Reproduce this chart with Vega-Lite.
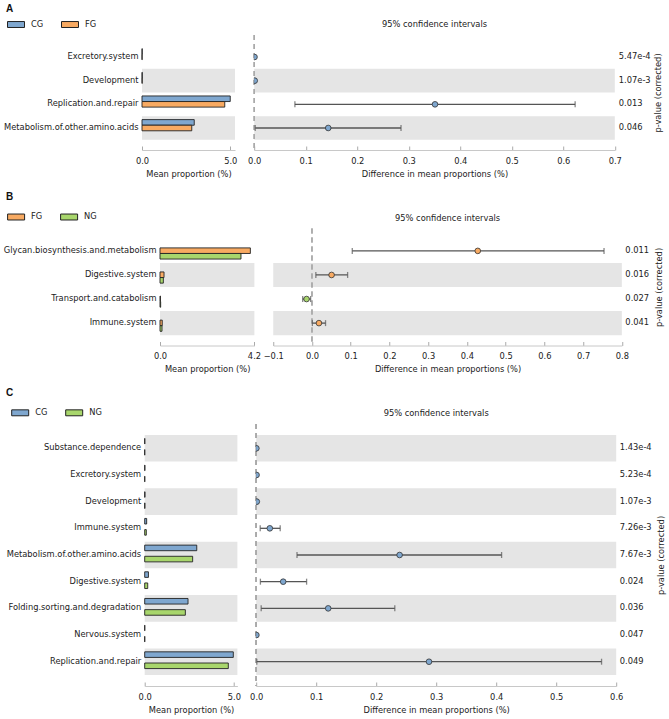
{
  "$schema": "https://vega.github.io/schema/vega-lite/v6.json",
  "background": "white",
  "padding": {"left": 2, "top": 3, "right": 2, "bottom": 2},
  "spacing": 13.5,
  "config": {
    "font": "DejaVu Sans",
    "view": {"stroke": null},
    "axis": {"labelFontSize": 8.3, "titleFontSize": 8.3, "titleFontWeight": "normal", "labelColor": "#222", "titleColor": "#222", "domainColor": "#c8c8c8", "tickColor": "#aaaaaa", "grid": false},
    "legend": {"padding": 0}
  },
  "datasets": {
    "A": [
      {"feature": "Excretory.system", "rank": 1, "CG": 0.012, "FG": 0.006, "diff": 0.0006, "lo": 0.0002, "hi": 0.001, "higher": "CG", "p": "5.47e-4"},
      {"feature": "Development", "rank": 2, "CG": 0.015, "FG": 0.01, "diff": 0.001, "lo": 0.0004, "hi": 0.0016, "higher": "CG", "p": "1.07e-3"},
      {"feature": "Replication.and.repair", "rank": 3, "CG": 5.0, "FG": 4.69, "diff": 0.351, "lo": 0.079, "hi": 0.623, "higher": "CG", "p": "0.013"},
      {"feature": "Metabolism.of.other.amino.acids", "rank": 4, "CG": 2.96, "FG": 2.82, "diff": 0.1437, "lo": 0.002, "hi": 0.285, "higher": "CG", "p": "0.046"}
    ],
    "B": [
      {"feature": "Glycan.biosynthesis.and.metabolism", "rank": 1, "FG": 4.04, "NG": 3.62, "diff": 0.428, "lo": 0.104, "hi": 0.754, "higher": "FG", "p": "0.011"},
      {"feature": "Digestive.system", "rank": 2, "FG": 0.18, "NG": 0.15, "diff": 0.0506, "lo": 0.01, "hi": 0.092, "higher": "FG", "p": "0.016"},
      {"feature": "Transport.and.catabolism", "rank": 3, "FG": 0.02, "NG": 0.03, "diff": -0.014, "lo": -0.024, "hi": -0.0035, "higher": "NG", "p": "0.027"},
      {"feature": "Immune.system", "rank": 4, "FG": 0.1, "NG": 0.09, "diff": 0.018, "lo": 0.001, "hi": 0.035, "higher": "FG", "p": "0.041"}
    ],
    "C": [
      {"feature": "Substance.dependence", "rank": 1, "CG": 0.006, "NG": 0.002, "diff": 0.0003, "lo": 0.0001, "hi": 0.0005, "higher": "CG", "p": "1.43e-4"},
      {"feature": "Excretory.system", "rank": 2, "CG": 0.012, "NG": 0.006, "diff": 0.0006, "lo": 0.0002, "hi": 0.001, "higher": "CG", "p": "5.23e-4"},
      {"feature": "Development", "rank": 3, "CG": 0.015, "NG": 0.01, "diff": 0.001, "lo": 0.0004, "hi": 0.0016, "higher": "CG", "p": "1.07e-3"},
      {"feature": "Immune.system", "rank": 4, "CG": 0.11, "NG": 0.09, "diff": 0.0227, "lo": 0.0067, "hi": 0.04, "higher": "CG", "p": "7.26e-3"},
      {"feature": "Metabolism.of.other.amino.acids", "rank": 5, "CG": 2.92, "NG": 2.69, "diff": 0.239, "lo": 0.068, "hi": 0.409, "higher": "CG", "p": "7.67e-3"},
      {"feature": "Digestive.system", "rank": 6, "CG": 0.21, "NG": 0.17, "diff": 0.045, "lo": 0.007, "hi": 0.084, "higher": "CG", "p": "0.024"},
      {"feature": "Folding.sorting.and.degradation", "rank": 7, "CG": 2.43, "NG": 2.28, "diff": 0.12, "lo": 0.0083, "hi": 0.231, "higher": "CG", "p": "0.036"},
      {"feature": "Nervous.system", "rank": 8, "CG": 0.006, "NG": 0.004, "diff": 0.0003, "lo": 0.0001, "hi": 0.0005, "higher": "CG", "p": "0.047"},
      {"feature": "Replication.and.repair", "rank": 9, "CG": 4.97, "NG": 4.69, "diff": 0.288, "lo": 0.001, "hi": 0.5756, "higher": "CG", "p": "0.049"}
    ]
  },
  "resolve": {"scale": {"color": "independent"}, "legend": {"color": "independent"}},
  "vconcat": [
    {
      "title": {"text": "A", "anchor": "start", "fontSize": 10, "fontWeight": "bold", "font": "Liberation Sans", "offset": 2, "dx": 4, "color": "#111"},
      "spacing": 0,
      "hconcat": [
        {"width": 1, "height": 1, "data": {"values": []}, "mark": {"type": "point", "opacity": 0}},
        {
          "spacing": 10.2,
          "data": {"name": "A"},
          "resolve": {"scale": {"color": "independent"}, "legend": {"color": "independent"}},
          "hconcat": [
            {
              "width": 93, "height": 115,
              "layer": [
                {
                  "transform": [{"filter": "datum.rank % 2 == 0"}],
                  "mark": {"type": "rect", "color": "#e5e5e5"},
                  "encoding": {
                    "y": {"field": "feature", "type": "nominal", "sort": {"field": "rank", "op": "min"}, "scale": {"paddingInner": 0, "paddingOuter": 0.43}, "axis": {"ticks": false, "domain": false, "labelPadding": 4, "title": null}},
                    "x": {"value": 0}, "x2": {"value": "width"}
                  }
                },
                {
                  "transform": [{"fold": ["CG", "FG"], "as": ["group", "mean"]}],
                  "mark": {"type": "bar", "stroke": "#222", "strokeWidth": 0.9},
                  "encoding": {
                    "y": {"field": "feature", "type": "nominal", "sort": {"field": "rank", "op": "min"}, "scale": {"paddingInner": 0, "paddingOuter": 0.43}, "axis": {"ticks": false, "domain": false, "labelPadding": 4, "title": null}},
                    "yOffset": {"field": "group", "type": "nominal", "scale": {"paddingInner": 0, "paddingOuter": 0.62}},
                    "x": {"field": "mean", "type": "quantitative", "scale": {"domain": [0, 5.27], "nice": false}, "axis": {"values": [0, 5], "format": ".1f", "title": "Mean proportion (%)", "labelFlush": false, "tickSize": -4, "labelPadding": 10, "titlePadding": 5}},
                    "color": {"field": "group", "type": "nominal", "scale": {"domain": ["CG", "FG"], "range": ["#7fa7cf", "#f8aa62"]},
                      "legend": {"orient": "none", "legendX": -135, "legendY": -19.5, "direction": "horizontal", "title": null, "symbolType": "M-1,-0.35H1V0.35H-1Z", "symbolSize": 289, "symbolStrokeColor": "#222", "symbolStrokeWidth": 1, "symbolOpacity": 1, "labelFontSize": 8.3, "labelColor": "#222", "labelOffset": 6, "columnPadding": 15}}
                  }
                }
              ]
            },
            {
              "width": 360.6, "height": 115,
              "title": {"text": "95% confidence intervals", "fontSize": 8.3, "fontWeight": "normal", "offset": 6, "color": "#222"},
              "layer": [
                {
                  "transform": [{"filter": "datum.rank % 2 == 0"}],
                  "mark": {"type": "rect", "color": "#e5e5e5"},
                  "encoding": {
                    "y": {"field": "feature", "type": "nominal", "sort": {"field": "rank", "op": "min"}, "scale": {"paddingInner": 0, "paddingOuter": 0.43}, "axis": {"orient": "right", "labels": false, "ticks": false, "domain": false, "title": "p-value (corrected)", "titleAngle": 270, "titlePadding": 48}},
                    "x": {"value": 0}, "x2": {"value": "width"}
                  }
                },
                {
                  "mark": {"type": "rule", "color": "#aaaaaa", "strokeDash": [5, 4], "strokeWidth": 1},
                  "encoding": {
                    "x": {"datum": 0, "type": "quantitative", "scale": {"domain": [0, 0.7], "nice": false, "zero": false}, "axis": {"values": [0, 0.1, 0.2, 0.3, 0.4, 0.5, 0.6, 0.7], "format": ".1f", "title": "Difference in mean proportions (%)", "labelFlush": false, "tickSize": -4, "labelPadding": 10, "titlePadding": 5}}
                  }
                },
                {
                  "mark": {"type": "rule", "color": "#555", "strokeWidth": 1.3},
                  "encoding": {
                    "y": {"field": "feature", "type": "nominal", "sort": {"field": "rank", "op": "min"}, "scale": {"paddingInner": 0, "paddingOuter": 0.43}, "axis": {"orient": "right", "labels": false, "ticks": false, "domain": false, "title": "p-value (corrected)", "titleAngle": 270, "titlePadding": 48}},
                    "x": {"field": "lo", "type": "quantitative", "scale": {"domain": [0, 0.7], "nice": false, "zero": false}, "axis": {"values": [0, 0.1, 0.2, 0.3, 0.4, 0.5, 0.6, 0.7], "format": ".1f", "title": "Difference in mean proportions (%)", "labelFlush": false, "tickSize": -4, "labelPadding": 10, "titlePadding": 5}},
                    "x2": {"field": "hi"}
                  }
                },
                {
                  "mark": {"type": "tick", "orient": "vertical", "color": "#555", "size": 6, "thickness": 1.3},
                  "encoding": {
                    "y": {"field": "feature", "type": "nominal", "sort": {"field": "rank", "op": "min"}, "scale": {"paddingInner": 0, "paddingOuter": 0.43}, "axis": {"orient": "right", "labels": false, "ticks": false, "domain": false, "title": "p-value (corrected)", "titleAngle": 270, "titlePadding": 48}},
                    "x": {"field": "lo", "type": "quantitative", "scale": {"domain": [0, 0.7], "nice": false, "zero": false}, "axis": {"values": [0, 0.1, 0.2, 0.3, 0.4, 0.5, 0.6, 0.7], "format": ".1f", "title": "Difference in mean proportions (%)", "labelFlush": false, "tickSize": -4, "labelPadding": 10, "titlePadding": 5}}
                  }
                },
                {
                  "mark": {"type": "tick", "orient": "vertical", "color": "#555", "size": 6, "thickness": 1.3},
                  "encoding": {
                    "y": {"field": "feature", "type": "nominal", "sort": {"field": "rank", "op": "min"}, "scale": {"paddingInner": 0, "paddingOuter": 0.43}, "axis": {"orient": "right", "labels": false, "ticks": false, "domain": false, "title": "p-value (corrected)", "titleAngle": 270, "titlePadding": 48}},
                    "x": {"field": "hi", "type": "quantitative", "scale": {"domain": [0, 0.7], "nice": false, "zero": false}, "axis": {"values": [0, 0.1, 0.2, 0.3, 0.4, 0.5, 0.6, 0.7], "format": ".1f", "title": "Difference in mean proportions (%)", "labelFlush": false, "tickSize": -4, "labelPadding": 10, "titlePadding": 5}}
                  }
                },
                {
                  "mark": {"type": "point", "filled": true, "size": 32, "stroke": "#333", "strokeWidth": 0.8, "opacity": 1, "clip": true},
                  "encoding": {
                    "y": {"field": "feature", "type": "nominal", "sort": {"field": "rank", "op": "min"}, "scale": {"paddingInner": 0, "paddingOuter": 0.43}, "axis": {"orient": "right", "labels": false, "ticks": false, "domain": false, "title": "p-value (corrected)", "titleAngle": 270, "titlePadding": 48}},
                    "x": {"field": "diff", "type": "quantitative", "scale": {"domain": [0, 0.7], "nice": false, "zero": false}, "axis": {"values": [0, 0.1, 0.2, 0.3, 0.4, 0.5, 0.6, 0.7], "format": ".1f", "title": "Difference in mean proportions (%)", "labelFlush": false, "tickSize": -4, "labelPadding": 10, "titlePadding": 5}},
                    "color": {"field": "higher", "type": "nominal", "scale": {"domain": ["CG", "FG"], "range": ["#7fa7cf", "#f8aa62"]}, "legend": null}
                  }
                },
                {
                  "mark": {"type": "text", "align": "left", "baseline": "middle", "dx": 4, "fontSize": 8.3, "color": "#222"},
                  "encoding": {
                    "y": {"field": "feature", "type": "nominal", "sort": {"field": "rank", "op": "min"}, "scale": {"paddingInner": 0, "paddingOuter": 0.43}, "axis": {"orient": "right", "labels": false, "ticks": false, "domain": false, "title": "p-value (corrected)", "titleAngle": 270, "titlePadding": 48}},
                    "x": {"datum": 0.7, "type": "quantitative", "scale": {"domain": [0, 0.7], "nice": false, "zero": false}, "axis": {"values": [0, 0.1, 0.2, 0.3, 0.4, 0.5, 0.6, 0.7], "format": ".1f", "title": "Difference in mean proportions (%)", "labelFlush": false, "tickSize": -4, "labelPadding": 10, "titlePadding": 5}},
                    "text": {"field": "p"}
                  }
                }
              ]
            }
          ]
        }
      ]
    },
    {
      "title": {"text": "B", "anchor": "start", "fontSize": 10, "fontWeight": "bold", "font": "Liberation Sans", "offset": 6, "dx": 4, "color": "#111"},
      "spacing": 0,
      "hconcat": [
        {"width": 1, "height": 1, "data": {"values": []}, "mark": {"type": "point", "opacity": 0}},
        {
          "spacing": 1.25,
          "data": {"name": "B"},
          "resolve": {"scale": {"color": "independent"}, "legend": {"color": "independent"}},
          "hconcat": [
            {
              "width": 94.4, "height": 117,
              "layer": [
                {
                  "transform": [{"filter": "datum.rank % 2 == 0"}],
                  "mark": {"type": "rect", "color": "#e5e5e5"},
                  "encoding": {
                    "y": {"field": "feature", "type": "nominal", "sort": {"field": "rank", "op": "min"}, "scale": {"paddingInner": 0, "paddingOuter": 0.43}, "axis": {"ticks": false, "domain": false, "labelPadding": 4, "title": null}},
                    "x": {"value": 0}, "x2": {"value": "width"}
                  }
                },
                {
                  "transform": [{"fold": ["FG", "NG"], "as": ["group", "mean"]}],
                  "mark": {"type": "bar", "stroke": "#222", "strokeWidth": 0.9},
                  "encoding": {
                    "y": {"field": "feature", "type": "nominal", "sort": {"field": "rank", "op": "min"}, "scale": {"paddingInner": 0, "paddingOuter": 0.43}, "axis": {"ticks": false, "domain": false, "labelPadding": 4, "title": null}},
                    "yOffset": {"field": "group", "type": "nominal", "scale": {"paddingInner": 0, "paddingOuter": 0.62}},
                    "x": {"field": "mean", "type": "quantitative", "scale": {"domain": [0, 4.22], "nice": false}, "axis": {"values": [0, 4.2], "format": ".1f", "title": "Mean proportion (%)", "labelFlush": false, "tickSize": -4, "labelPadding": 10, "titlePadding": 5}},
                    "color": {"field": "group", "type": "nominal", "scale": {"domain": ["FG", "NG"], "range": ["#f8aa62", "#a8d66c"]},
                      "legend": {"orient": "none", "legendX": -152.9, "legendY": -20.5, "direction": "horizontal", "title": null, "symbolType": "M-1,-0.35H1V0.35H-1Z", "symbolSize": 289, "symbolStrokeColor": "#222", "symbolStrokeWidth": 1, "symbolOpacity": 1, "labelFontSize": 8.3, "labelColor": "#222", "labelOffset": 6, "columnPadding": 15}}
                  }
                }
              ]
            },
            {
              "width": 348.6, "height": 117,
              "title": {"text": "95% confidence intervals", "fontSize": 8.3, "fontWeight": "normal", "offset": 6, "color": "#222"},
              "layer": [
                {
                  "transform": [{"filter": "datum.rank % 2 == 0"}],
                  "mark": {"type": "rect", "color": "#e5e5e5"},
                  "encoding": {
                    "y": {"field": "feature", "type": "nominal", "sort": {"field": "rank", "op": "min"}, "scale": {"paddingInner": 0, "paddingOuter": 0.43}, "axis": {"orient": "right", "labels": false, "ticks": false, "domain": false, "title": "p-value (corrected)", "titleAngle": 270, "titlePadding": 41.4}},
                    "x": {"value": 0}, "x2": {"value": "width"}
                  }
                },
                {
                  "mark": {"type": "rule", "color": "#aaaaaa", "strokeDash": [5, 4], "strokeWidth": 1},
                  "encoding": {
                    "x": {"datum": 0, "type": "quantitative", "scale": {"domain": [-0.1, 0.8], "nice": false, "zero": false}, "axis": {"values": [-0.1, 0, 0.1, 0.2, 0.3, 0.4, 0.5, 0.6, 0.7, 0.8], "format": ".1f", "title": "Difference in mean proportions (%)", "labelFlush": false, "tickSize": -4, "labelPadding": 10, "titlePadding": 5}}
                  }
                },
                {
                  "mark": {"type": "rule", "color": "#555", "strokeWidth": 1.3},
                  "encoding": {
                    "y": {"field": "feature", "type": "nominal", "sort": {"field": "rank", "op": "min"}, "scale": {"paddingInner": 0, "paddingOuter": 0.43}, "axis": {"orient": "right", "labels": false, "ticks": false, "domain": false, "title": "p-value (corrected)", "titleAngle": 270, "titlePadding": 41.4}},
                    "x": {"field": "lo", "type": "quantitative", "scale": {"domain": [-0.1, 0.8], "nice": false, "zero": false}, "axis": {"values": [-0.1, 0, 0.1, 0.2, 0.3, 0.4, 0.5, 0.6, 0.7, 0.8], "format": ".1f", "title": "Difference in mean proportions (%)", "labelFlush": false, "tickSize": -4, "labelPadding": 10, "titlePadding": 5}},
                    "x2": {"field": "hi"}
                  }
                },
                {
                  "mark": {"type": "tick", "orient": "vertical", "color": "#555", "size": 6, "thickness": 1.3},
                  "encoding": {
                    "y": {"field": "feature", "type": "nominal", "sort": {"field": "rank", "op": "min"}, "scale": {"paddingInner": 0, "paddingOuter": 0.43}, "axis": {"orient": "right", "labels": false, "ticks": false, "domain": false, "title": "p-value (corrected)", "titleAngle": 270, "titlePadding": 41.4}},
                    "x": {"field": "lo", "type": "quantitative", "scale": {"domain": [-0.1, 0.8], "nice": false, "zero": false}, "axis": {"values": [-0.1, 0, 0.1, 0.2, 0.3, 0.4, 0.5, 0.6, 0.7, 0.8], "format": ".1f", "title": "Difference in mean proportions (%)", "labelFlush": false, "tickSize": -4, "labelPadding": 10, "titlePadding": 5}}
                  }
                },
                {
                  "mark": {"type": "tick", "orient": "vertical", "color": "#555", "size": 6, "thickness": 1.3},
                  "encoding": {
                    "y": {"field": "feature", "type": "nominal", "sort": {"field": "rank", "op": "min"}, "scale": {"paddingInner": 0, "paddingOuter": 0.43}, "axis": {"orient": "right", "labels": false, "ticks": false, "domain": false, "title": "p-value (corrected)", "titleAngle": 270, "titlePadding": 41.4}},
                    "x": {"field": "hi", "type": "quantitative", "scale": {"domain": [-0.1, 0.8], "nice": false, "zero": false}, "axis": {"values": [-0.1, 0, 0.1, 0.2, 0.3, 0.4, 0.5, 0.6, 0.7, 0.8], "format": ".1f", "title": "Difference in mean proportions (%)", "labelFlush": false, "tickSize": -4, "labelPadding": 10, "titlePadding": 5}}
                  }
                },
                {
                  "mark": {"type": "point", "filled": true, "size": 32, "stroke": "#333", "strokeWidth": 0.8, "opacity": 1, "clip": true},
                  "encoding": {
                    "y": {"field": "feature", "type": "nominal", "sort": {"field": "rank", "op": "min"}, "scale": {"paddingInner": 0, "paddingOuter": 0.43}, "axis": {"orient": "right", "labels": false, "ticks": false, "domain": false, "title": "p-value (corrected)", "titleAngle": 270, "titlePadding": 41.4}},
                    "x": {"field": "diff", "type": "quantitative", "scale": {"domain": [-0.1, 0.8], "nice": false, "zero": false}, "axis": {"values": [-0.1, 0, 0.1, 0.2, 0.3, 0.4, 0.5, 0.6, 0.7, 0.8], "format": ".1f", "title": "Difference in mean proportions (%)", "labelFlush": false, "tickSize": -4, "labelPadding": 10, "titlePadding": 5}},
                    "color": {"field": "higher", "type": "nominal", "scale": {"domain": ["FG", "NG"], "range": ["#f8aa62", "#a8d66c"]}, "legend": null}
                  }
                },
                {
                  "mark": {"type": "text", "align": "left", "baseline": "middle", "dx": 3.5, "fontSize": 8.3, "color": "#222"},
                  "encoding": {
                    "y": {"field": "feature", "type": "nominal", "sort": {"field": "rank", "op": "min"}, "scale": {"paddingInner": 0, "paddingOuter": 0.43}, "axis": {"orient": "right", "labels": false, "ticks": false, "domain": false, "title": "p-value (corrected)", "titleAngle": 270, "titlePadding": 41.4}},
                    "x": {"datum": 0.8, "type": "quantitative", "scale": {"domain": [-0.1, 0.8], "nice": false, "zero": false}, "axis": {"values": [-0.1, 0, 0.1, 0.2, 0.3, 0.4, 0.5, 0.6, 0.7, 0.8], "format": ".1f", "title": "Difference in mean proportions (%)", "labelFlush": false, "tickSize": -4, "labelPadding": 10, "titlePadding": 5}},
                    "text": {"field": "p"}
                  }
                }
              ]
            }
          ]
        }
      ]
    },
    {
      "title": {"text": "C", "anchor": "start", "fontSize": 10, "fontWeight": "bold", "font": "Liberation Sans", "offset": 6, "dx": 4, "color": "#111"},
      "spacing": 2.7,
      "hconcat": [
        {"width": 1, "height": 1, "data": {"values": []}, "mark": {"type": "point", "opacity": 0}},
        {
          "spacing": 8.5,
          "data": {"name": "C"},
          "resolve": {"scale": {"color": "independent"}, "legend": {"color": "independent"}},
          "hconcat": [
            {
              "width": 92.7, "height": 262,
              "layer": [
                {
                  "transform": [{"filter": "datum.rank % 2 == 1"}],
                  "mark": {"type": "rect", "color": "#e5e5e5"},
                  "encoding": {
                    "y": {"field": "feature", "type": "nominal", "sort": {"field": "rank", "op": "min"}, "scale": {"paddingInner": 0, "paddingOuter": 0.41}, "axis": {"ticks": false, "domain": false, "labelPadding": 4, "title": null}},
                    "x": {"value": 0}, "x2": {"value": "width"}
                  }
                },
                {
                  "transform": [{"fold": ["CG", "NG"], "as": ["group", "mean"]}],
                  "mark": {"type": "bar", "stroke": "#222", "strokeWidth": 0.9},
                  "encoding": {
                    "y": {"field": "feature", "type": "nominal", "sort": {"field": "rank", "op": "min"}, "scale": {"paddingInner": 0, "paddingOuter": 0.41}, "axis": {"ticks": false, "domain": false, "labelPadding": 4, "title": null}},
                    "yOffset": {"field": "group", "type": "nominal", "scale": {"paddingInner": 0, "paddingOuter": 0.62}},
                    "x": {"field": "mean", "type": "quantitative", "scale": {"domain": [0, 5.2], "nice": false}, "axis": {"values": [0, 5], "format": ".1f", "title": "Mean proportion (%)", "labelFlush": false, "tickSize": -4, "labelPadding": 10, "titlePadding": 5}},
                    "color": {"field": "group", "type": "nominal", "scale": {"domain": ["CG", "NG"], "range": ["#7fa7cf", "#a8d66c"]},
                      "legend": {"orient": "none", "legendX": -133.5, "legendY": -20.2, "direction": "horizontal", "title": null, "symbolType": "M-1,-0.35H1V0.35H-1Z", "symbolSize": 289, "symbolStrokeColor": "#222", "symbolStrokeWidth": 1, "symbolOpacity": 1, "labelFontSize": 8.3, "labelColor": "#222", "labelOffset": 6, "columnPadding": 15}}
                  }
                }
              ]
            },
            {
              "width": 360, "height": 262,
              "title": {"text": "95% confidence intervals", "fontSize": 8.3, "fontWeight": "normal", "offset": 6, "color": "#222"},
              "layer": [
                {
                  "transform": [{"filter": "datum.rank % 2 == 1"}],
                  "mark": {"type": "rect", "color": "#e5e5e5"},
                  "encoding": {
                    "y": {"field": "feature", "type": "nominal", "sort": {"field": "rank", "op": "min"}, "scale": {"paddingInner": 0, "paddingOuter": 0.41}, "axis": {"orient": "right", "labels": false, "ticks": false, "domain": false, "title": "p-value (corrected)", "titleAngle": 270, "titlePadding": 49}},
                    "x": {"value": 0}, "x2": {"value": "width"}
                  }
                },
                {
                  "mark": {"type": "rule", "color": "#aaaaaa", "strokeDash": [5, 4], "strokeWidth": 1},
                  "encoding": {
                    "x": {"datum": 0, "type": "quantitative", "scale": {"domain": [0, 0.6], "nice": false, "zero": false}, "axis": {"values": [0, 0.1, 0.2, 0.3, 0.4, 0.5, 0.6], "format": ".1f", "title": "Difference in mean proportions (%)", "labelFlush": false, "tickSize": -4, "labelPadding": 10, "titlePadding": 5}}
                  }
                },
                {
                  "mark": {"type": "rule", "color": "#555", "strokeWidth": 1.3},
                  "encoding": {
                    "y": {"field": "feature", "type": "nominal", "sort": {"field": "rank", "op": "min"}, "scale": {"paddingInner": 0, "paddingOuter": 0.41}, "axis": {"orient": "right", "labels": false, "ticks": false, "domain": false, "title": "p-value (corrected)", "titleAngle": 270, "titlePadding": 49}},
                    "x": {"field": "lo", "type": "quantitative", "scale": {"domain": [0, 0.6], "nice": false, "zero": false}, "axis": {"values": [0, 0.1, 0.2, 0.3, 0.4, 0.5, 0.6], "format": ".1f", "title": "Difference in mean proportions (%)", "labelFlush": false, "tickSize": -4, "labelPadding": 10, "titlePadding": 5}},
                    "x2": {"field": "hi"}
                  }
                },
                {
                  "mark": {"type": "tick", "orient": "vertical", "color": "#555", "size": 6, "thickness": 1.3},
                  "encoding": {
                    "y": {"field": "feature", "type": "nominal", "sort": {"field": "rank", "op": "min"}, "scale": {"paddingInner": 0, "paddingOuter": 0.41}, "axis": {"orient": "right", "labels": false, "ticks": false, "domain": false, "title": "p-value (corrected)", "titleAngle": 270, "titlePadding": 49}},
                    "x": {"field": "lo", "type": "quantitative", "scale": {"domain": [0, 0.6], "nice": false, "zero": false}, "axis": {"values": [0, 0.1, 0.2, 0.3, 0.4, 0.5, 0.6], "format": ".1f", "title": "Difference in mean proportions (%)", "labelFlush": false, "tickSize": -4, "labelPadding": 10, "titlePadding": 5}}
                  }
                },
                {
                  "mark": {"type": "tick", "orient": "vertical", "color": "#555", "size": 6, "thickness": 1.3},
                  "encoding": {
                    "y": {"field": "feature", "type": "nominal", "sort": {"field": "rank", "op": "min"}, "scale": {"paddingInner": 0, "paddingOuter": 0.41}, "axis": {"orient": "right", "labels": false, "ticks": false, "domain": false, "title": "p-value (corrected)", "titleAngle": 270, "titlePadding": 49}},
                    "x": {"field": "hi", "type": "quantitative", "scale": {"domain": [0, 0.6], "nice": false, "zero": false}, "axis": {"values": [0, 0.1, 0.2, 0.3, 0.4, 0.5, 0.6], "format": ".1f", "title": "Difference in mean proportions (%)", "labelFlush": false, "tickSize": -4, "labelPadding": 10, "titlePadding": 5}}
                  }
                },
                {
                  "mark": {"type": "point", "filled": true, "size": 32, "stroke": "#333", "strokeWidth": 0.8, "opacity": 1, "clip": true},
                  "encoding": {
                    "y": {"field": "feature", "type": "nominal", "sort": {"field": "rank", "op": "min"}, "scale": {"paddingInner": 0, "paddingOuter": 0.41}, "axis": {"orient": "right", "labels": false, "ticks": false, "domain": false, "title": "p-value (corrected)", "titleAngle": 270, "titlePadding": 49}},
                    "x": {"field": "diff", "type": "quantitative", "scale": {"domain": [0, 0.6], "nice": false, "zero": false}, "axis": {"values": [0, 0.1, 0.2, 0.3, 0.4, 0.5, 0.6], "format": ".1f", "title": "Difference in mean proportions (%)", "labelFlush": false, "tickSize": -4, "labelPadding": 10, "titlePadding": 5}},
                    "color": {"field": "higher", "type": "nominal", "scale": {"domain": ["CG", "NG"], "range": ["#7fa7cf", "#a8d66c"]}, "legend": null}
                  }
                },
                {
                  "mark": {"type": "text", "align": "left", "baseline": "middle", "dx": 3.6, "fontSize": 8.3, "color": "#222"},
                  "encoding": {
                    "y": {"field": "feature", "type": "nominal", "sort": {"field": "rank", "op": "min"}, "scale": {"paddingInner": 0, "paddingOuter": 0.41}, "axis": {"orient": "right", "labels": false, "ticks": false, "domain": false, "title": "p-value (corrected)", "titleAngle": 270, "titlePadding": 49}},
                    "x": {"datum": 0.6, "type": "quantitative", "scale": {"domain": [0, 0.6], "nice": false, "zero": false}, "axis": {"values": [0, 0.1, 0.2, 0.3, 0.4, 0.5, 0.6], "format": ".1f", "title": "Difference in mean proportions (%)", "labelFlush": false, "tickSize": -4, "labelPadding": 10, "titlePadding": 5}},
                    "text": {"field": "p"}
                  }
                }
              ]
            }
          ]
        }
      ]
    }
  ]
}
